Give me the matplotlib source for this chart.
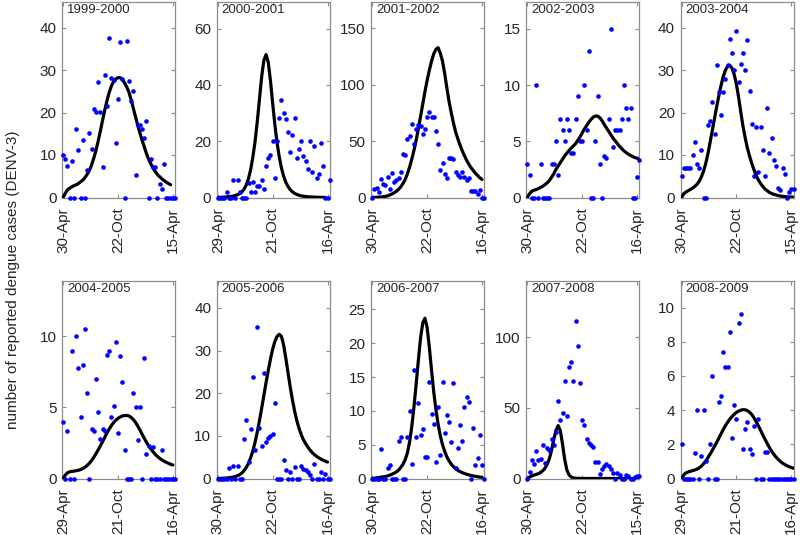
import numpy as np
import matplotlib
matplotlib.use("Agg")
import matplotlib.pyplot as plt

plt.rcParams['font.family'] = ['Liberation Sans', 'DejaVu Sans']

seasons = ["1999-2000", "2000-2001", "2001-2002", "2002-2003", "2003-2004",
           "2004-2005", "2005-2006", "2006-2007", "2007-2008", "2008-2009"]

xtick_labels = [
    ["30-Apr", "22-Oct", "15-Apr"],
    ["29-Apr", "21-Oct", "16-Apr"],
    ["30-Apr", "22-Oct", "16-Apr"],
    ["30-Apr", "22-Oct", "16-Apr"],
    ["30-Apr", "22-Oct", "15-Apr"],
    ["29-Apr", "21-Oct", "16-Apr"],
    ["30-Apr", "22-Oct", "16-Apr"],
    ["30-Apr", "22-Oct", "16-Apr"],
    ["30-Apr", "22-Oct", "15-Apr"],
    ["29-Apr", "21-Oct", "16-Apr"],
]

yticks = [
    [0, 10, 20, 30, 40],
    [0, 20, 40, 60],
    [0, 50, 100, 150],
    [0, 5, 10, 15],
    [0, 10, 20, 30, 40],
    [0, 5, 10],
    [0, 10, 20, 30, 40],
    [0, 5, 10, 15, 20, 25],
    [0, 50, 100],
    [0, 2, 4, 6, 8, 10],
]
ymax = [46, 69.5, 173.5, 17.4, 46, 13.9, 46.3, 29.2, 140, 11.56]

# weekly reported cases
obs_1999 = [10.1, 9.0, 7.5, 0, 8.7, 0, 16.1, 11.1, 0, 13.6, 0, 6.5, 15.1, 11.3, 20.9, 20.1, 27.1, 20.1,
            7.1, 28.9, 21.6, 37.6, 28.2, 27.6, 12.8, 23.1, 36.7, 28.0, 0, 36.9, 27.3, 22.8, 25.1, 5.4,
            17.0, 17.0, 16.1, 14.0, 18.0, 0, 9.0, 7.1, 7.1, 0, 3.2, 2.0, 8.0, 0, 0, 0, 0, 0]
obs_2000 = [0, 0, 0, 0, 2.1, 0, 0, 6.1, 0, 6.1, 2.1, 0, 0, 0, 5.1, 2.1, 5.5, 2.1, 4.1, 4.1, 6.1, 3.1,
            11.3, 14.1, 15.2, 20.1, 6.9, 20.1, 28.1, 34.5, 30.2, 28.0, 23.2, 16.2, 22.1, 28.2, 14.1,
            17.2, 20.0, 14.7, 13.1, 10.0, 20.0, 8.9, 18.2, 6.8, 8.2, 19.2, 11.2, 0, 0, 6.1]
obs_2001 = [0, 7.4, 8.2, 5.3, 16.5, 12.4, 10.9, 18.5, 7.6, 22.1, 14.1, 15.6, 17.6, 22.6, 38.5, 37.4,
            51.5, 55.0, 65.6, 47.4, 60.6, 64.1, 63.2, 56.2, 60.9, 71.5, 75.9, 71.5, 71.5, 58.8, 47.4,
            24.4, 30.9, 20.6, 17.1, 34.7, 34.7, 34.4, 22.6, 19.7, 18.5, 22.6, 17.9, 15.6, 17.1, 6.2,
            6.2, 5.9, 3.2, 6.8, 0, 0]
obs_2002 = [3, 2, 0, 0, 10, 0, 3, 0, 0, 0, 0, 3, 3, 5, 2, 7, 6, 5, 7, 6, 4, 4, 7, 9, 5, 5, 10, 6, 13,
            0, 0, 5, 9, 3, 0, 3.7, 3.5, 7, 15, 4.5, 6, 6, 6, 7, 10, 8, 7, 8, 0, 0, 1.8, 3.3]
obs_2003 = [5.0, 7.0, 7.0, 7.0, 7.0, 10.0, 13.0, 8.0, 7.0, 11.1, 0, 0, 17.0, 18.0, 22.5, 15.0, 31.1,
            24.9, 19.4, 24.9, 28.0, 31.1, 37.4, 34.1, 30.1, 39.1, 27.1, 31.4, 34.1, 30.0, 37.0, 25.0,
            17.4, 5.0, 16.6, 6.0, 16.6, 11.1, 5.0, 21.0, 10.5, 14.0, 8.9, 7.5, 2.2, 1.8, 7.0, 5.6, 0,
            1.4, 1.9, 1.9]
obs_2004 = [4.0, 0, 3.35, 0, 9.0, 0, 10.0, 7.8, 4.3, 8.0, 10.5, 6.0, 0, 3.5, 3.35, 7.0, 4.7, 2.8, 3.5,
            3.35, 8.7, 9.0, 4.3, 5.1, 9.6, 3.2, 8.6, 6.8, 2.0, 0, 0, 0, 6.0, 5.0, 2.7, 5.0, 0, 8.5,
            1.75, 2.3, 0, 2.2, 0, 0, 0, 2.0, 0, 0, 0, 0, 0, 0]
obs_2005 = [0, 0, 0, 0, 0, 2.4, 0, 3.0, 0, 3.0, 0, 0, 9.3, 13.7, 3.8, 11.7, 23.7, 6.6, 35.6, 11.8, 7.7,
            24.7, 8.5, 9.4, 10.0, 10.4, 17.7, 0, 0, 0, 4.4, 2.0, 0, 1.5, 0, 2.7, 0, 0, 3.0, 2.2, 2.1,
            1.6, 0.9, 0, 3.4, 0, 0, 1.5, 0, 1.0, 0, 0]
obs_2006 = [0, 0, 0, 0, 4.4, 0, 0, 1.5, 2.0, 0, 0, 0, 5.6, 6.1, 0, 0, 6.1, 10.0, 2.1, 16.1, 6.2, 11.1,
            6.4, 7.3, 3.2, 3.2, 14.3, 9.5, 8.0, 2.4, 10.5, 3.5, 14.3, 6.7, 9.4, 8.4, 5.4, 14.1, 1.6,
            4.5, 7.9, 5.6, 10.5, 12.1, 11.3, 0, 7.4, 2.0, 3.0, 6.5, 2.0, 0]
obs_2007 = [0, 4.4, 13.1, 10.0, 19.4, 12.9, 13.6, 23.6, 10.7, 21.7, 20.1, 28.3, 24.1, 32.9, 54.9, 41.6,
            46.5, 68.9, 44.2, 79.2, 82.5, 69.2, 111.7, 94.2, 68.0, 41.6, 38.1, 27.8, 25.2, 23.6, 22.2,
            11.4, 11.9, 3.0, 6.8, 8.9, 10.5, 8.9, 6.8, 3.7, 0, 3.7, 2.6, 0, 0, 2.6, 1.9, 0, 0, 1.2,
            1.6, 1.6]
obs_2008 = [2.0, 0, 0, 0, 0, 0, 1.5, 4.0, 0, 1.3, 4.0, 1.0, 0, 2.0, 6.0, 0, 0, 4.5, 4.8, 7.4, 6.5, 6.5,
            8.6, 2.35, 4.3, 3.5, 9.1, 9.65, 1.75, 2.9, 3.3, 1.7, 1.45, 3.1, 0, 3.5, 0, 0, 1.55, 1.55,
            0, 0, 0, 0, 0, 0, 0, 0, 0, 0, 0, 0]

# model fit, weekly
fit_1999 = [0, 1.0, 1.8, 2.2, 2.5, 2.8, 3.0, 3.3, 3.7, 4.1, 4.7, 5.5, 6.4, 7.7, 9.3, 11.1, 13.3, 15.7,
            18.2, 20.6, 22.8, 24.7, 26.2, 27.3, 27.9, 28.2, 28.2, 27.8, 27.0, 26.0, 24.8, 23.0, 21.0,
            19.0, 17.0, 15.2, 13.5, 11.9, 10.3, 9.0, 7.9, 6.9, 6.1, 5.4, 4.9, 4.4, 4.0, 3.6, 3.3, 3.0]
fit_2000 = [0, 0.05, 0.1, 0.15, 0.2, 0.3, 0.4, 0.5, 0.7, 1.0, 1.4, 2.0, 3.0, 4.5, 6.8, 10.0, 14.5, 20.0,
            27.0, 35.0, 43.0, 48.8, 50.8, 48.0, 41.5, 33.5, 26.0, 19.5, 14.5, 10.5, 7.6, 5.4, 3.9, 2.8,
            2.0, 1.5, 1.1, 0.8, 0.6, 0.45, 0.35, 0.27, 0.2, 0.16, 0.13, 0.1, 0.08, 0.06, 0.05, 0.04]
fit_2001 = [0, 0.1, 0.2, 0.3, 0.5, 0.7, 1.0, 1.5, 2.2, 3.2, 4.3, 5.5, 7.3, 9.5, 12.5, 16.0, 21.0, 27.0,
            34.0, 42.0, 51.0, 61.0, 72.0, 83.0, 94.0, 104.0, 113.0, 121.0, 127.5, 131.5, 133.0, 128.0,
            121.0, 110.0, 97.0, 85.0, 75.0, 66.0, 58.0, 52.0, 46.5, 41.5, 37.0, 33.0, 29.5, 26.5, 24.0,
            21.5, 19.5, 17.5, 16.0]
fit_2002 = [0, 0.35, 0.55, 0.65, 0.7, 0.8, 0.9, 1.0, 1.15, 1.3, 1.5, 1.8, 2.1, 2.5, 2.8, 3.1, 3.4, 3.7,
            3.95, 4.2, 4.4, 4.6, 4.8, 5.1, 5.4, 5.75, 6.1, 6.4, 6.7, 6.95, 7.15, 7.25, 7.25, 7.1, 6.85,
            6.5, 6.2, 5.9, 5.6, 5.3, 5.05, 4.8, 4.55, 4.35, 4.15, 4.0, 3.85, 3.75, 3.65, 3.55, 3.5, 3.45]
fit_2003 = [0, 0.9, 1.3, 1.6, 1.9, 2.2, 2.6, 3.1, 3.8, 4.8, 6.2, 8.0, 10.3, 13.0, 15.8, 18.6, 21.4, 24.0,
            26.4, 28.5, 30.0, 30.9, 31.1, 30.4, 28.9, 26.6, 23.5, 20.0, 16.7, 14.0, 11.6, 9.7, 8.0, 6.5,
            5.2, 4.1, 3.3, 2.6, 2.0, 1.6, 1.2, 0.95, 0.75, 0.6, 0.45, 0.35, 0.28, 0.22, 0.17, 0.13, 0.1,
            0.08]
fit_2004 = [0, 0.25, 0.4, 0.47, 0.5, 0.52, 0.55, 0.58, 0.63, 0.7, 0.8, 0.92, 1.08, 1.27, 1.5, 1.75, 2.02,
            2.3, 2.6, 2.9, 3.2, 3.48, 3.72, 3.93, 4.1, 4.23, 4.33, 4.4, 4.43, 4.44, 4.4, 4.3, 4.15, 3.95,
            3.7, 3.42, 3.12, 2.83, 2.55, 2.3, 2.08, 1.88, 1.7, 1.55, 1.42, 1.31, 1.22, 1.14, 1.07, 1.0,
            0.95]
fit_2005 = [0, 0.02, 0.05, 0.08, 0.12, 0.17, 0.24, 0.33, 0.46, 0.65, 0.92, 1.3, 1.85, 2.6, 3.6, 4.9, 6.5,
            8.5, 10.9, 13.6, 16.5, 19.5, 22.5, 25.3, 28.0, 30.3, 32.1, 33.3, 33.8, 33.3, 31.3, 28.2,
            24.8, 21.5, 18.5, 15.8, 13.6, 11.8, 10.3, 9.1, 8.2, 7.4, 6.7, 6.1, 5.6, 5.2, 4.85, 4.55,
            4.3, 4.05, 3.85]
fit_2006 = [0, 0.05, 0.1, 0.15, 0.2, 0.25, 0.3, 0.38, 0.5, 0.63, 0.8, 0.98, 1.25, 1.65, 2.1, 2.8, 3.8,
            5.4, 7.7, 10.6, 14.0, 17.5, 20.8, 23.0, 23.7, 22.3, 19.4, 16.0, 12.8, 10.2, 8.0, 6.3, 5.0,
            4.0, 3.2, 2.6, 2.1, 1.75, 1.45, 1.2, 1.02, 0.87, 0.74, 0.63, 0.53, 0.45, 0.38, 0.32, 0.26,
            0.21, 0.17]
fit_2007 = [0, 1.0, 1.8, 2.4, 2.9, 3.4, 4.3, 5.5, 7.3, 10.0, 14.0, 20.0, 27.5, 34.0, 37.5, 34.0, 24.5,
            13.5, 6.0, 2.5, 1.0, 0.4, 0.2, 0.1, 0.05, 0.03, 0.02, 0.01, 0.01, 0, 0, 0, 0, 0, 0, 0, 0, 0,
            0, 0, 0, 0, 0, 0, 0, 0, 0, 0, 0, 0, 0, 0]
fit_2008 = [0, 0.22, 0.33, 0.38, 0.42, 0.46, 0.5, 0.55, 0.62, 0.72, 0.86, 1.02, 1.22, 1.43, 1.65, 1.88,
            2.12, 2.37, 2.62, 2.87, 3.1, 3.3, 3.48, 3.63, 3.76, 3.87, 3.95, 4.0, 4.03, 4.02, 3.97, 3.88,
            3.74, 3.55, 3.32, 3.08, 2.82, 2.55, 2.3, 2.05, 1.82, 1.6, 1.42, 1.26, 1.12, 1.0, 0.9, 0.82,
            0.75, 0.69, 0.64, 0.6]

observed = [obs_1999, obs_2000, obs_2001, obs_2002, obs_2003,
            obs_2004, obs_2005, obs_2006, obs_2007, obs_2008]
fitted = [fit_1999, fit_2000, fit_2001, fit_2002, fit_2003,
          fit_2004, fit_2005, fit_2006, fit_2007, fit_2008]

W, H = 800, 535
fig = plt.figure(figsize=(W / 100, H / 100), dpi=100)

col_left = [62, 216.7, 371.2, 526.3, 680.5]
ax_w = 113
row_top = [2, 281]
row_bot = [197.5, 478.5]

spine_col = '#8c8c8c'
text_col = '#262626'

for i in range(10):
    r, c = divmod(i, 5)
    left = col_left[c] / W
    bottom = 1 - row_bot[r] / H
    height = (row_bot[r] - row_top[r]) / H
    ax = fig.add_axes([left, bottom, ax_w / W, height])

    obs = observed[i]
    fit = fitted[i]
    ax.plot(np.arange(len(fit)), fit, color='black', lw=2.3, solid_capstyle='round', zorder=3)
    ax.plot(np.arange(len(obs)), obs, 'o', color='#0000ff', ms=3.3, mec='none',
            clip_on=False, zorder=4)

    ax.set_xlim(-0.5, 51)
    ax.set_ylim(0, ymax[i])
    ax.set_xticks([0, 25, 50])
    ax.set_xticklabels(xtick_labels[i], rotation=90, fontsize=11, color=text_col)
    ax.set_yticks(yticks[i])
    ax.set_yticklabels([str(t) for t in yticks[i]], fontsize=11, color=text_col)
    ax.tick_params(direction='in', length=3, width=0.8, color=spine_col,
                   top=True, right=True, pad=4)
    ax.tick_params(axis='x', pad=7)
    for s in ax.spines.values():
        s.set_color(spine_col)
        s.set_linewidth(0.9)
    ax.text(0.045, 0.988, seasons[i], transform=ax.transAxes, ha='left', va='top',
            fontsize=9.5, color=text_col)

fig.text(0.016, 0.478, "number of reported dengue cases (DENV-3)", rotation=90,
         ha='center', va='center', fontsize=11, color=text_col)

fig.savefig("out.png", dpi=100)
